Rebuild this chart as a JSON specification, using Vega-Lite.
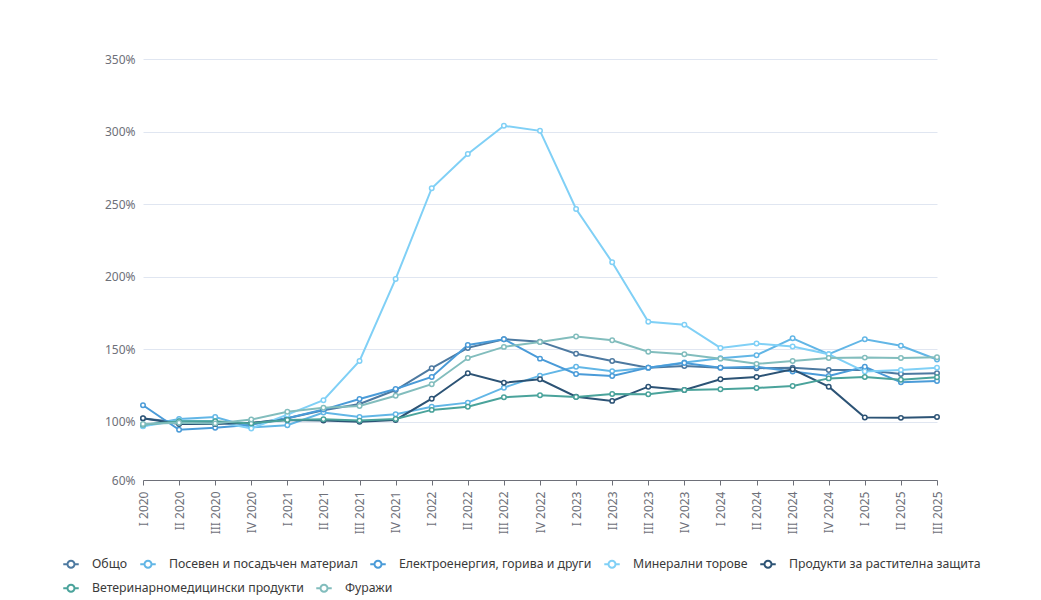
{
  "$schema": "https://vega.github.io/schema/vega-lite/v6.json",
  "width": 794,
  "height": 421,
  "autosize": "none",
  "padding": {"left": 143, "top": 59, "right": 104, "bottom": 120},
  "background": "white",
  "config": {
    "font": "Noto Sans",
    "axis": {"labelFont": "Noto Sans"},
    "legend": {
      "labelFont": "Noto Sans",
      "title": null,
      "orient": "none",
      "direction": "horizontal",
      "columnPadding": 8,
      "labelFontSize": 12.3,
      "labelColor": "#3a3a3a",
      "labelLimit": 500,
      "labelOffset": 12,
      "symbolType": "M-1,0L-0.45,0M0.45,0L1,0M0.45,0A0.45,0.45,0,1,1,-0.45,0A0.45,0.45,0,1,1,0.45,0",
      "symbolSize": 240,
      "symbolStrokeWidth": 2,
      "symbolFillColor": "white"
    },
    "view": {"stroke": null}
  },
  "data": {
    "values": [
      {"q":"I 2020","s":"Общо","v":102.3},{"q":"II 2020","s":"Общо","v":99.8},{"q":"III 2020","s":"Общо","v":99.5},{"q":"IV 2020","s":"Общо","v":99},{"q":"I 2021","s":"Общо","v":102.5},{"q":"II 2021","s":"Общо","v":108},{"q":"III 2021","s":"Общо","v":112.4},{"q":"IV 2021","s":"Общо","v":122},{"q":"I 2022","s":"Общо","v":137},{"q":"II 2022","s":"Общо","v":151},{"q":"III 2022","s":"Общо","v":157},{"q":"IV 2022","s":"Общо","v":155.3},{"q":"I 2023","s":"Общо","v":147},{"q":"II 2023","s":"Общо","v":142},{"q":"III 2023","s":"Общо","v":137.4},{"q":"IV 2023","s":"Общо","v":138.5},{"q":"I 2024","s":"Общо","v":137.4},{"q":"II 2024","s":"Общо","v":137},{"q":"III 2024","s":"Общо","v":137.4},{"q":"IV 2024","s":"Общо","v":135.8},{"q":"I 2025","s":"Общо","v":135.8},{"q":"II 2025","s":"Общо","v":133},{"q":"III 2025","s":"Общо","v":133.5},

      {"q":"I 2020","s":"Посевен и посадъчен материал","v":97.2},{"q":"II 2020","s":"Посевен и посадъчен материал","v":102},{"q":"III 2020","s":"Посевен и посадъчен материал","v":103.4},{"q":"IV 2020","s":"Посевен и посадъчен материал","v":96.3},{"q":"I 2021","s":"Посевен и посадъчен материал","v":97.7},{"q":"II 2021","s":"Посевен и посадъчен материал","v":106.5},{"q":"III 2021","s":"Посевен и посадъчен материал","v":103.4},{"q":"IV 2021","s":"Посевен и посадъчен материал","v":105.3},{"q":"I 2022","s":"Посевен и посадъчен материал","v":110.5},{"q":"II 2022","s":"Посевен и посадъчен материал","v":113.3},{"q":"III 2022","s":"Посевен и посадъчен материал","v":123.6},{"q":"IV 2022","s":"Посевен и посадъчен материал","v":131.9},{"q":"I 2023","s":"Посевен и посадъчен материал","v":138},{"q":"II 2023","s":"Посевен и посадъчен материал","v":135},{"q":"III 2023","s":"Посевен и посадъчен материал","v":137.4},{"q":"IV 2023","s":"Посевен и посадъчен материал","v":141},{"q":"I 2024","s":"Посевен и посадъчен материал","v":143.8},{"q":"II 2024","s":"Посевен и посадъчен материал","v":146},{"q":"III 2024","s":"Посевен и посадъчен материал","v":157.6},{"q":"IV 2024","s":"Посевен и посадъчен материал","v":146.6},{"q":"I 2025","s":"Посевен и посадъчен материал","v":157},{"q":"II 2025","s":"Посевен и посадъчен материал","v":152.5},{"q":"III 2025","s":"Посевен и посадъчен материал","v":143},

      {"q":"I 2020","s":"Електроенергия, горива и други","v":111.5},{"q":"II 2020","s":"Електроенергия, горива и други","v":94.6},{"q":"III 2020","s":"Електроенергия, горива и други","v":96},{"q":"IV 2020","s":"Електроенергия, горива и други","v":98},{"q":"I 2021","s":"Електроенергия, горива и други","v":102.5},{"q":"II 2021","s":"Електроенергия, горива и други","v":108.5},{"q":"III 2021","s":"Електроенергия, горива и други","v":115.8},{"q":"IV 2021","s":"Електроенергия, горива и други","v":122.7},{"q":"I 2022","s":"Електроенергия, горива и други","v":131},{"q":"II 2022","s":"Електроенергия, горива и други","v":153},{"q":"III 2022","s":"Електроенергия, горива и други","v":157},{"q":"IV 2022","s":"Електроенергия, горива и други","v":143.6},{"q":"I 2023","s":"Електроенергия, горива и други","v":133},{"q":"II 2023","s":"Електроенергия, горива и други","v":131.7},{"q":"III 2023","s":"Електроенергия, горива и други","v":137.4},{"q":"IV 2023","s":"Електроенергия, горива и други","v":140.6},{"q":"I 2024","s":"Електроенергия, горива и други","v":137.4},{"q":"II 2024","s":"Електроенергия, горива и други","v":138},{"q":"III 2024","s":"Електроенергия, горива и други","v":134.7},{"q":"IV 2024","s":"Електроенергия, горива и други","v":131.7},{"q":"I 2025","s":"Електроенергия, горива и други","v":138},{"q":"II 2025","s":"Електроенергия, горива и други","v":127.3},{"q":"III 2025","s":"Електроенергия, горива и други","v":128.2},

      {"q":"I 2020","s":"Минерални торове","v":97},{"q":"II 2020","s":"Минерални торове","v":101},{"q":"III 2020","s":"Минерални торове","v":100.5},{"q":"IV 2020","s":"Минерални торове","v":95.5},{"q":"I 2021","s":"Минерални торове","v":105},{"q":"II 2021","s":"Минерални торове","v":115},{"q":"III 2021","s":"Минерални торове","v":142},{"q":"IV 2021","s":"Минерални торове","v":198.5},{"q":"I 2022","s":"Минерални торове","v":261},{"q":"II 2022","s":"Минерални торове","v":284.5},{"q":"III 2022","s":"Минерални торове","v":304},{"q":"IV 2022","s":"Минерални торове","v":300.5},{"q":"I 2023","s":"Минерални торове","v":246.7},{"q":"II 2023","s":"Минерални торове","v":210},{"q":"III 2023","s":"Минерални торове","v":169},{"q":"IV 2023","s":"Минерални торове","v":167},{"q":"I 2024","s":"Минерални торове","v":151},{"q":"II 2024","s":"Минерални торове","v":154},{"q":"III 2024","s":"Минерални торове","v":152},{"q":"IV 2024","s":"Минерални торове","v":146.6},{"q":"I 2025","s":"Минерални торове","v":134.7},{"q":"II 2025","s":"Минерални торове","v":135.8},{"q":"III 2025","s":"Минерални торове","v":137.4},

      {"q":"I 2020","s":"Продукти за растителна защита","v":102.5},{"q":"II 2020","s":"Продукти за растителна защита","v":98.6},{"q":"III 2020","s":"Продукти за растителна защита","v":98.5},{"q":"IV 2020","s":"Продукти за растителна защита","v":99.5},{"q":"I 2021","s":"Продукти за растителна защита","v":101.4},{"q":"II 2021","s":"Продукти за растителна защита","v":100.9},{"q":"III 2021","s":"Продукти за растителна защита","v":100.2},{"q":"IV 2021","s":"Продукти за растителна защита","v":101.4},{"q":"I 2022","s":"Продукти за растителна защита","v":116},{"q":"II 2022","s":"Продукти за растителна защита","v":133.5},{"q":"III 2022","s":"Продукти за растителна защита","v":127},{"q":"IV 2022","s":"Продукти за растителна защита","v":129.4},{"q":"I 2023","s":"Продукти за растителна защита","v":117.4},{"q":"II 2023","s":"Продукти за растителна защита","v":114.5},{"q":"III 2023","s":"Продукти за растителна защита","v":124.3},{"q":"IV 2023","s":"Продукти за растителна защита","v":122},{"q":"I 2024","s":"Продукти за растителна защита","v":129.4},{"q":"II 2024","s":"Продукти за растителна защита","v":131},{"q":"III 2024","s":"Продукти за растителна защита","v":136.3},{"q":"IV 2024","s":"Продукти за растителна защита","v":124.3},{"q":"I 2025","s":"Продукти за растителна защита","v":103},{"q":"II 2025","s":"Продукти за растителна защита","v":102.8},{"q":"III 2025","s":"Продукти за растителна защита","v":103.4},

      {"q":"I 2020","s":"Ветеринарномедицински продукти","v":98},{"q":"II 2020","s":"Ветеринарномедицински продукти","v":100.5},{"q":"III 2020","s":"Ветеринарномедицински продукти","v":100.5},{"q":"IV 2020","s":"Ветеринарномедицински продукти","v":99},{"q":"I 2021","s":"Ветеринарномедицински продукти","v":101.4},{"q":"II 2021","s":"Ветеринарномедицински продукти","v":101.8},{"q":"III 2021","s":"Ветеринарномедицински продукти","v":100.9},{"q":"IV 2021","s":"Ветеринарномедицински продукти","v":102},{"q":"I 2022","s":"Ветеринарномедицински продукти","v":108.3},{"q":"II 2022","s":"Ветеринарномедицински продукти","v":110.5},{"q":"III 2022","s":"Ветеринарномедицински продукти","v":117},{"q":"IV 2022","s":"Ветеринарномедицински продукти","v":118.4},{"q":"I 2023","s":"Ветеринарномедицински продукти","v":117.2},{"q":"II 2023","s":"Ветеринарномедицински продукти","v":119.3},{"q":"III 2023","s":"Ветеринарномедицински продукти","v":119},{"q":"IV 2023","s":"Ветеринарномедицински продукти","v":122},{"q":"I 2024","s":"Ветеринарномедицински продукти","v":122.5},{"q":"II 2024","s":"Ветеринарномедицински продукти","v":123.4},{"q":"III 2024","s":"Ветеринарномедицински продукти","v":124.8},{"q":"IV 2024","s":"Ветеринарномедицински продукти","v":130},{"q":"I 2025","s":"Ветеринарномедицински продукти","v":131},{"q":"II 2025","s":"Ветеринарномедицински продукти","v":129},{"q":"III 2025","s":"Ветеринарномедицински продукти","v":130.8},

      {"q":"I 2020","s":"Фуражи","v":98.6},{"q":"II 2020","s":"Фуражи","v":99.5},{"q":"III 2020","s":"Фуражи","v":99},{"q":"IV 2020","s":"Фуражи","v":101.6},{"q":"I 2021","s":"Фуражи","v":107},{"q":"II 2021","s":"Фуражи","v":109.8},{"q":"III 2021","s":"Фуражи","v":111},{"q":"IV 2021","s":"Фуражи","v":118},{"q":"I 2022","s":"Фуражи","v":126},{"q":"II 2022","s":"Фуражи","v":144},{"q":"III 2022","s":"Фуражи","v":151.7},{"q":"IV 2022","s":"Фуражи","v":155},{"q":"I 2023","s":"Фуражи","v":158.8},{"q":"II 2023","s":"Фуражи","v":156.3},{"q":"III 2023","s":"Фуражи","v":148.4},{"q":"IV 2023","s":"Фуражи","v":146.6},{"q":"I 2024","s":"Фуражи","v":143.6},{"q":"II 2024","s":"Фуражи","v":140},{"q":"III 2024","s":"Фуражи","v":142},{"q":"IV 2024","s":"Фуражи","v":144},{"q":"I 2025","s":"Фуражи","v":144.3},{"q":"II 2025","s":"Фуражи","v":144},{"q":"III 2025","s":"Фуражи","v":144.5}
    ]
  },
  "encoding": {
    "x": {
      "field": "q",
      "type": "ordinal",
      "sort": null,
      "scale": {"type": "point", "padding": 0},
      "axis": {
        "title": null,
        "labelAngle": -90,
        "labelFont": "Noto Sans",
        "labelColor": "#6e7079",
        "labelFontSize": 12,
        "labelPadding": 6,
        "domainColor": "#6e7079",
        "tickColor": "#6e7079",
        "tickSize": 5,
        "grid": false
      }
    },
    "y": {
      "field": "v",
      "type": "quantitative",
      "scale": {"domain": [60, 350], "nice": false, "zero": false},
      "axis": {
        "title": null,
        "values": [60, 100, 150, 200, 250, 300, 350],
        "labelExpr": "datum.value + '%'",
        "labelFont": "Noto Sans",
        "labelColor": "#6e7079",
        "labelFontSize": 12,
        "labelPadding": 8,
        "domain": false,
        "ticks": false,
        "grid": true,
        "gridColor": "#e0e6f1",
        "gridWidth": 1
      }
    }
  },
  "layer": [
    {
      "transform": [{"filter": {"field": "s", "oneOf": ["Общо", "Посевен и посадъчен материал", "Електроенергия, горива и други", "Минерални торове", "Продукти за растителна защита"]}}],
      "mark": {
        "type": "line",
        "strokeWidth": 2,
        "point": {"filled": false, "fill": "white", "size": 20, "strokeWidth": 1.5}
      },
      "encoding": {
        "color": {
          "field": "s",
          "type": "nominal",
          "scale": {
            "domain": ["Общо", "Посевен и посадъчен материал", "Електроенергия, горива и други", "Минерални торове", "Продукти за растителна защита"],
            "range": ["#4d79a0", "#62b6e6", "#4a9bd8", "#80d0f6", "#2c5375"]
          },
          "legend": {
            "legendX": -81,
            "legendY": 496,
            "encode": {"symbols": {"update": {"fill": {"value": "white"}, "strokeWidth": {"value": 2}}}}
          }
        }
      }
    },
    {
      "transform": [{"filter": {"field": "s", "oneOf": ["Ветеринарномедицински продукти", "Фуражи"]}}],
      "mark": {
        "type": "line",
        "strokeWidth": 2,
        "point": {"filled": false, "fill": "white", "size": 20, "strokeWidth": 1.5}
      },
      "encoding": {
        "color": {
          "field": "s",
          "type": "nominal",
          "scale": {
            "domain": ["Ветеринарномедицински продукти", "Фуражи"],
            "range": ["#4aa39b", "#82bdbd"]
          },
          "legend": {
            "legendX": -81,
            "legendY": 520,
            "encode": {"symbols": {"update": {"fill": {"value": "white"}, "strokeWidth": {"value": 2}}}}
          }
        }
      }
    }
  ],
  "resolve": {"scale": {"color": "independent"}}
}
